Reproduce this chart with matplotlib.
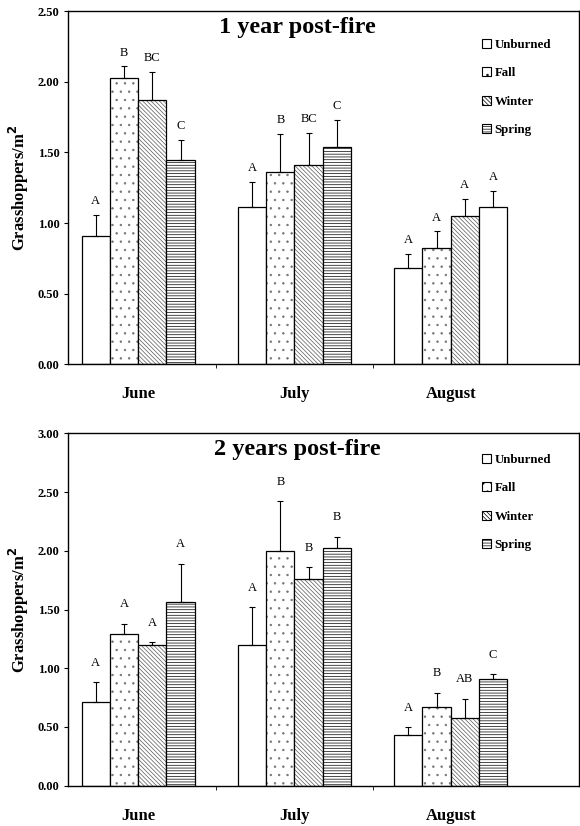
import numpy as np
import matplotlib
matplotlib.use("Agg")
import matplotlib.pyplot as plt

plt.rcParams["font.family"] = ["Liberation Serif", "DejaVu Serif"]
plt.rcParams["hatch.linewidth"] = 0.5

months = ["June", "July", "August"]
treatments = ["Unburned", "Fall", "Winter", "Spring"]

# 1 year post-fire (rows: treatments, cols: months)
y1_mean = np.array([
    [0.91, 1.11, 0.68],
    [2.03, 1.36, 0.82],
    [1.87, 1.41, 1.05],
    [1.45, 1.54, 1.11],
])
y1_err = np.array([
    [0.15, 0.18, 0.10],
    [0.08, 0.27, 0.12],
    [0.20, 0.23, 0.12],
    [0.14, 0.19, 0.12],
])
y1_letters = [
    ["A", "A", "A"],
    ["B", "B", "A"],
    ["BC", "BC", "A"],
    ["C", "C", "A"],
]

# 2 years post-fire
y2_mean = np.array([
    [0.71, 1.20, 0.43],
    [1.29, 2.00, 0.67],
    [1.20, 1.76, 0.58],
    [1.56, 2.02, 0.91],
])
y2_err = np.array([
    [0.17, 0.32, 0.07],
    [0.09, 0.42, 0.12],
    [0.02, 0.10, 0.16],
    [0.33, 0.10, 0.04],
])
y2_letters = [
    ["A", "A", "A"],
    ["A", "B", "B"],
    ["A", "B", "AB"],
    ["A", "B", "C"],
]

hatches = ["", "..", "\\\\\\\\\\\\\\\\", "------"]
hatch_colors = ["black", "0.45", "0.35", "black"]

fig = plt.figure(figsize=(5.8, 8.26), dpi=100)
ax1 = fig.add_axes([0.117, 0.5593, 0.881, 0.4268])
ax2 = fig.add_axes([0.117, 0.0488, 0.881, 0.4266])

panels = [
    (ax1, y1_mean, y1_err, y1_letters, "1 year post-fire", 2.5, 10, [(3, 2)], 0.092),
    (ax2, y2_mean, y2_err, y2_letters, "2 years post-fire", 3.0, 14, [], 0.073),
]

w = 0.181
x = np.arange(len(months))

for ax, mean, err, letters, title, ymax, off, plain, leg_y in panels:
    for j, name in enumerate(treatments):
        xs = x + (j - 1.5) * w
        # hatch layer (edgecolor sets hatch colour), then black outline on top
        fill = ax.bar(xs, mean[j], width=w, color="white",
                      edgecolor=hatch_colors[j], linewidth=0,
                      hatch=hatches[j])
        for (pj, pi) in plain:
            if pj == j:
                fill[pi].set_hatch("")
        ax.bar(xs, mean[j], width=w, fill=False, edgecolor="black",
               linewidth=0.9)
        # proxy for legend
        ax.bar([np.nan], [np.nan], color="white", edgecolor="black",
               linewidth=0.8, hatch=hatches[j], label=name)
        ax.errorbar(xs, mean[j], yerr=[np.zeros(len(months)), err[j]],
                    fmt="none", ecolor="black", elinewidth=0.8, capsize=2.5,
                    capthick=0.8)
        for i in range(len(months)):
            ax.annotate(letters[j][i], (xs[i], mean[j][i] + err[j][i]),
                        xytext=(0, off), textcoords="offset points",
                        ha="center", va="center", fontsize=9)

    ax.set_xlim(-0.45, 2.82)
    ax.set_ylim(0, ymax)
    ticks = np.arange(0, ymax + 0.01, 0.5)
    ax.set_yticks(ticks)
    ax.set_yticklabels([f"{v:.2f}" for v in ticks], fontsize=9,
                       fontweight="bold")
    ax.set_xticks(x)
    ax.set_xticklabels(months, fontsize=12, fontweight="bold")
    ax.set_xticks([0.5, 1.5], minor=True)
    ax.tick_params(axis="x", which="major", length=0, pad=16)
    ax.tick_params(axis="x", which="minor", length=3, direction="out")
    ax.tick_params(axis="y", length=3, direction="out", pad=3)
    for s in ax.spines.values():
        s.set_linewidth(1.0)
    ax.set_ylabel("Grasshoppers/m$^{\\mathbf{2}}$", fontsize=12,
                  fontweight="bold", labelpad=5)
    ax.text(0.45, 0.955, title, transform=ax.transAxes, ha="center",
            va="center", fontsize=17.5, fontweight="bold")
    ax.legend(loc="upper left", bbox_to_anchor=(0.80, 1 - leg_y + 0.03),
              frameon=False, prop={"weight": "bold", "size": 9.3},
              handlelength=0.7, handleheight=0.7, handletextpad=0.3,
              labelspacing=1.28, borderaxespad=0)

fig.savefig("out.png", dpi=100)
